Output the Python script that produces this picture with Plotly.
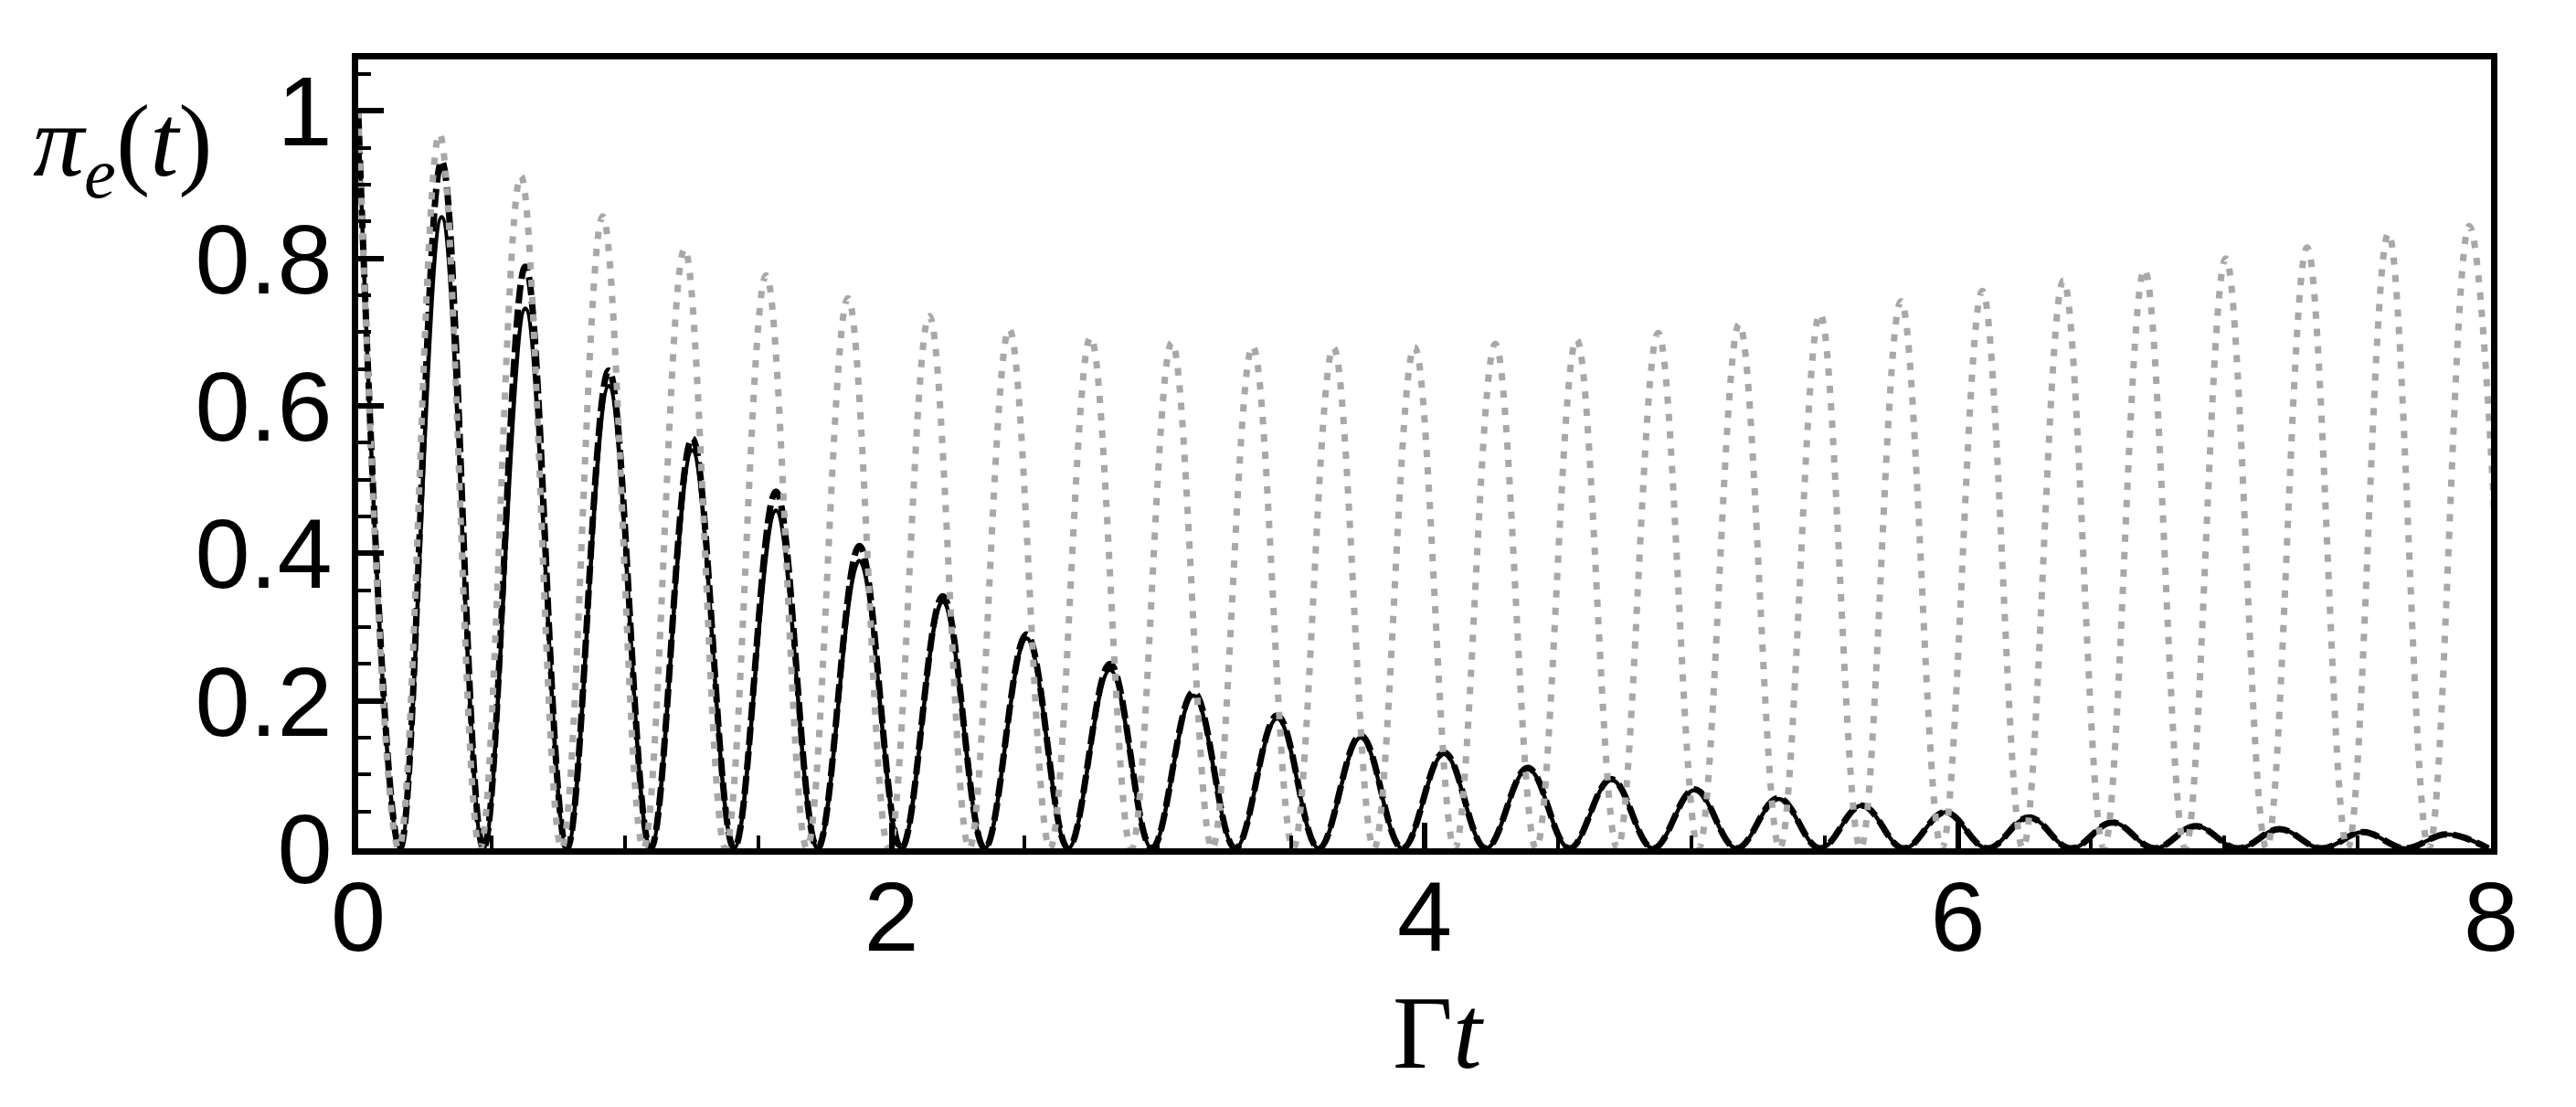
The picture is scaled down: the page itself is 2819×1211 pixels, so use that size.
import plotly.graph_objects as go

# ---- data ----
# black curves (solid and dashed): peak times, zero times, peak heights
black_peak_t = [0.313, 0.627, 0.940, 1.253, 1.567, 1.880, 2.193, 2.507, 2.820, 3.133,
                3.447, 3.760, 4.073, 4.387, 4.700, 5.013, 5.327, 5.640, 5.953, 6.267,
                6.580, 6.893, 7.207, 7.520, 7.833]
black_zero_t = [0.157, 0.470, 0.783, 1.097, 1.410, 1.723, 2.037, 2.350, 2.663, 2.977,
                3.290, 3.603, 3.917, 4.230, 4.543, 4.857, 5.170, 5.483, 5.797, 6.110,
                6.423, 6.737, 7.050, 7.363, 7.677, 7.990]
solid_peak_v = [0.856, 0.732, 0.627, 0.540, 0.458, 0.390, 0.335, 0.285, 0.242, 0.207,
                0.176, 0.150, 0.128, 0.108, 0.093, 0.079, 0.067, 0.058, 0.049, 0.042,
                0.035, 0.030, 0.026, 0.022, 0.019]
dashed_peak_v = [0.932, 0.789, 0.648, 0.556, 0.484, 0.410, 0.342, 0.290, 0.250, 0.212,
                 0.180, 0.153, 0.130, 0.109, 0.094, 0.080, 0.068, 0.058, 0.049, 0.042,
                 0.035, 0.030, 0.026, 0.022, 0.019]
# grey dotted curve
gray_peak_t = [0.305, 0.610, 0.917, 1.224, 1.530, 1.837, 2.142, 2.442, 2.747, 3.052,
               3.355, 3.658, 3.962, 4.265, 4.570, 4.876, 5.180, 5.483, 5.787, 6.092,
               6.396, 6.700, 7.005, 7.310, 7.615, 7.918]
gray_zero_t = [0.152, 0.457, 0.763, 1.070, 1.377, 1.683, 1.990, 2.292, 2.595, 2.900,
               3.203, 3.507, 3.810, 4.113, 4.418, 4.723, 5.028, 5.332, 5.635, 5.940,
               6.244, 6.548, 6.853, 7.158, 7.462, 7.767, 8.070]
gray_peak_v = [0.969, 0.912, 0.857, 0.813, 0.777, 0.746, 0.722, 0.704, 0.693, 0.686,
               0.681, 0.679, 0.680, 0.684, 0.690, 0.699, 0.711, 0.725, 0.742, 0.756,
               0.770, 0.785, 0.800, 0.815, 0.834, 0.844]
start_t = 0.0
start_v = 1.0

x_tickvals = [0, 2, 4, 6, 8]
x_ticktext = ["0", "2", "4", "6", "8"]
y_tickvals = [0, 0.2, 0.4, 0.6, 0.8, 1.0]
y_ticktext = ["0", "0.2", "0.4", "0.6", "0.8", "1"]


def build(zeros, peaks_t, peaks_v):
    xs, ys = [start_t], [start_v]
    for i, z in enumerate(zeros):
        xs.append(z)
        ys.append(0.0)
        if i < len(peaks_t):
            xs.append(peaks_t[i])
            ys.append(peaks_v[i])
    return xs, ys


sx, sy = build(black_zero_t, black_peak_t, solid_peak_v)
dx, dy = build(black_zero_t, black_peak_t, dashed_peak_v)
gx, gy = build(gray_zero_t, gray_peak_t, gray_peak_v)

fig = go.Figure()
fig.add_trace(go.Scatter(x=sx, y=sy, mode="lines",
                         line=dict(color="black", width=4.5, shape="spline",
                                   smoothing=1.1, simplify=False)))
fig.add_trace(go.Scatter(x=dx, y=dy, mode="lines",
                         line=dict(color="black", width=7, shape="spline",
                                   smoothing=1.1, simplify=False, dash="20px,7px")))
fig.add_trace(go.Scatter(x=gx, y=gy, mode="lines",
                         line=dict(color="rgb(168,168,168)", width=7, shape="spline",
                                   smoothing=1.1, simplify=False, dash="8px,11px")))

L, R, T, B = 384, 101, 56.5, 291
W, H = 2819, 1211
pw, ph = W - L - R, H - T - B


def px(xp):
    return (xp - L) / pw


def py(yp):
    return (H - B - yp) / ph


tickfont = dict(family="Liberation Sans, Arial, sans-serif", size=108, color="black")
serif = "Liberation Serif, Times New Roman, serif"

fig.update_layout(
    width=W, height=H,
    margin=dict(l=L, r=R, t=T, b=B, pad=0),
    paper_bgcolor="white", plot_bgcolor="white",
    showlegend=False,
    xaxis=dict(range=[0, 8], showline=True, linewidth=6.5, linecolor="black",
               mirror=True, ticks="inside", ticklen=28, tickwidth=6, tickcolor="black",
               tickmode="array", tickvals=x_tickvals, ticktext=x_ticktext,
               tickfont=tickfont, showgrid=False, zeroline=False, ticklabelstandoff=-24,
               minor=dict(dtick=0.5, tick0=0, ticks="inside", ticklen=14,
                          tickwidth=4, tickcolor="black", showgrid=False)),
    yaxis=dict(range=[0, 1.07], showline=True, linewidth=6.5, linecolor="black",
               mirror=True, ticks="inside", ticklen=28, tickwidth=6, tickcolor="black",
               tickmode="array", tickvals=y_tickvals, ticktext=y_ticktext,
               tickfont=tickfont, showgrid=False, zeroline=False,
               minor=dict(dtick=0.05, tick0=0, ticks="inside", ticklen=14,
                          tickwidth=4, tickcolor="black", showgrid=False)),
    annotations=[
        dict(text="Γ<i>t</i>", xref="paper", yref="paper", x=px(1566), y=py(1122),
             xanchor="center", yanchor="middle", showarrow=False,
             font=dict(family=serif, size=114, color="black")),
        dict(text="<i>π</i><sub><i>e</i></sub>(<i>t</i>)", xref="paper", yref="paper",
             x=px(26), y=py(154), xanchor="left", yanchor="middle", showarrow=False,
             font=dict(family=serif, size=112, color="black")),
    ],
)

fig.write_html("out.html")
